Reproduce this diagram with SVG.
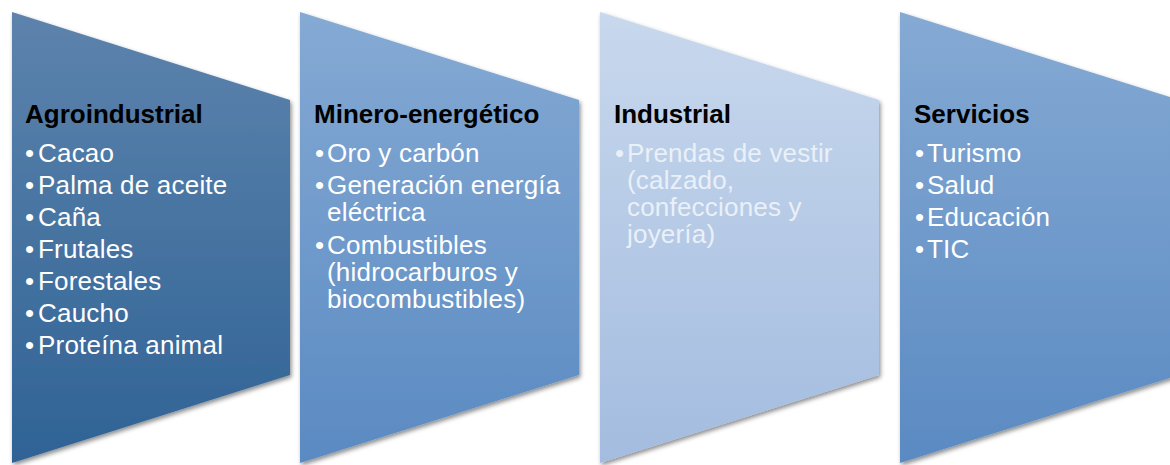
<svg xmlns="http://www.w3.org/2000/svg" width="1170" height="465" viewBox="0 0 1170 465">
<defs>
<linearGradient id="g1" x1="0" y1="0" x2="0" y2="1"><stop offset="0" stop-color="#5d83ad"/><stop offset="1" stop-color="#2f6395"/></linearGradient>
<linearGradient id="g2" x1="0" y1="0" x2="0" y2="1"><stop offset="0" stop-color="#85aad4"/><stop offset="1" stop-color="#5a8ac2"/></linearGradient>
<linearGradient id="g3" x1="0" y1="0" x2="0" y2="1"><stop offset="0" stop-color="#c8d8ed"/><stop offset="1" stop-color="#a3bcdf"/></linearGradient>
<filter id="sh" x="-10%" y="-10%" width="120%" height="120%"><feDropShadow dx="1.5" dy="2.5" stdDeviation="2.2" flood-color="#000" flood-opacity="0.45"/></filter>
</defs>
<style>
.t{font-family:"Liberation Sans",Arial,sans-serif;font-weight:bold;font-size:26px;fill:#000}
.b{font-family:"Liberation Sans",Arial,sans-serif;font-size:26px;letter-spacing:0.2px;fill:#fff}
.l{fill:#eaf0f8}
</style>
<rect width="1170" height="465" fill="#fff"/>
<g id="agroindustrial">
<polygon points="12,12 290,100 290,375 12,463" fill="url(#g1)" filter="url(#sh)"/>
<text class="t" x="25" y="123">Agroindustrial</text>
<g class="b">
<text y="162"><tspan x="25">•</tspan><tspan x="38">Cacao</tspan></text>
<text y="194"><tspan x="25">•</tspan><tspan x="38">Palma de aceite</tspan></text>
<text y="226"><tspan x="25">•</tspan><tspan x="38">Caña</tspan></text>
<text y="258"><tspan x="25">•</tspan><tspan x="38">Frutales</tspan></text>
<text y="290"><tspan x="25">•</tspan><tspan x="38">Forestales</tspan></text>
<text y="322"><tspan x="25">•</tspan><tspan x="38">Caucho</tspan></text>
<text y="354"><tspan x="25">•</tspan><tspan x="38">Proteína animal</tspan></text>
</g>
</g>
<g id="minero">
<polygon points="300,12 579,100 579,375 300,463" fill="url(#g2)" filter="url(#sh)"/>
<text class="t" x="314" y="123">Minero-energético</text>
<g class="b">
<text y="162"><tspan x="315">•</tspan><tspan x="327">Oro y carbón</tspan></text>
<text y="194"><tspan x="315">•</tspan><tspan x="327">Generación energía</tspan><tspan x="327" dy="27">eléctrica</tspan></text>
<text y="254"><tspan x="315">•</tspan><tspan x="327">Combustibles</tspan><tspan x="327" dy="27">(hidrocarburos y</tspan><tspan x="327" dy="27">biocombustibles)</tspan></text>
</g>
</g>
<g id="industrial">
<polygon points="600,12 879,100 879,375 600,463" fill="url(#g3)" filter="url(#sh)"/>
<text class="t" x="614" y="123">Industrial</text>
<g class="b l">
<text y="162"><tspan x="615">•</tspan><tspan x="627">Prendas de vestir</tspan><tspan x="627" dy="27">(calzado,</tspan><tspan x="627" dy="27">confecciones y</tspan><tspan x="627" dy="27">joyería)</tspan></text>
</g>
</g>
<g id="servicios">
<polygon points="900,12 1179,100 1179,375 900,463" fill="url(#g2)" filter="url(#sh)"/>
<text class="t" x="914" y="123">Servicios</text>
<g class="b">
<text y="162"><tspan x="915">•</tspan><tspan x="927">Turismo</tspan></text>
<text y="194"><tspan x="915">•</tspan><tspan x="927">Salud</tspan></text>
<text y="226"><tspan x="915">•</tspan><tspan x="927">Educación</tspan></text>
<text y="258"><tspan x="915">•</tspan><tspan x="927">TIC</tspan></text>
</g>
</g>
<g id="connectors"/>
</svg>
